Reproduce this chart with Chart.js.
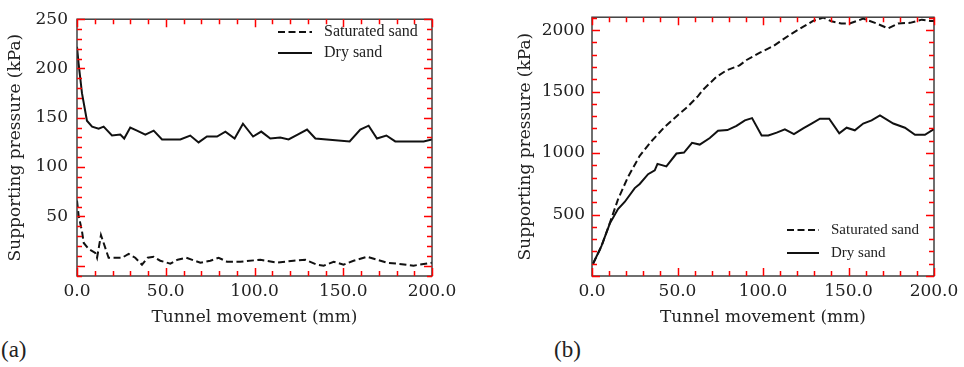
<!DOCTYPE html>
<html>
<head>
<meta charset="utf-8">
<script src="https://cdn.jsdelivr.net/npm/chart.js@4.4.1/dist/chart.umd.min.js"></script>
<style>
    body {
        margin: 0;
        background: #fff;
        width: 964px;
        height: 367px;
        position: relative;
        overflow: hidden;
    }
    .panel {
        position: absolute;
        top: 0;
    }
    #panelA { left: 0; }
    #panelB { left: 484px; }
    .tag {
        position: absolute;
        top: 338px;
        font: 23px "Liberation Serif", serif;
        line-height: 1;
        color: #222;
    }
</style>
</head>
<body>
<div class="panel" id="panelA"><canvas id="chartA" width="480" height="334"></canvas></div>
<div class="panel" id="panelB"><canvas id="chartB" width="480" height="334"></canvas></div>
<div class="tag" style="left:1px">(a)</div>
<div class="tag" style="left:554px">(b)</div>
<script>
// panel (a)
const satAx = [0, 0.9, 2.8, 3.8, 6.5, 10.3, 11.3, 13.5, 17.8, 25.4, 29.1, 32.8, 36.6, 39.8, 43.2, 46.9, 52.6, 56.7, 61.6, 69.5, 75.1, 79.8, 84.5, 92, 103.3, 112.7, 122, 128.6, 135.2, 139, 144.6, 150.2, 155.8, 163.4, 169, 174.6, 180.3, 189.6, 200];
const satAy = [66, 51, 35, 23, 17, 13, 8, 31, 8, 8, 12, 8, 1, 8, 9, 5, 2, 6, 8, 3, 5, 8, 4, 4, 6, 3, 5, 6, 1, 0, 4, 1, 5, 9, 6, 3, 2, 0, 3];
const dryAx = [0, 0.9, 2.8, 5.6, 8.5, 12.2, 15, 19.7, 24.4, 26.6, 30, 33.8, 38.5, 43.2, 47.9, 58.2, 63.8, 68.5, 73.2, 78.9, 83.6, 88.8, 93.5, 99.2, 103.8, 108.9, 114.5, 119.2, 124.3, 129.6, 134.3, 153.6, 159.6, 164.3, 169, 174.3, 179.3, 185, 189.6, 195.3, 200];
const dryAy = [222, 205, 175, 147, 141, 139, 141, 132, 133, 129, 140, 137, 133, 137, 128, 128, 132, 125, 131, 131, 136, 129, 144, 131, 136, 129, 130, 128, 133, 138, 129, 126, 138, 142, 129, 132, 126, 126, 126, 126, 128];

// panel (b)
const satBx = [0.6, 5.5, 10.4, 15.2, 21.1, 27.9, 34.7, 42.5, 50.3, 56.2, 62, 65, 72.8, 78.7, 86.3, 90.4, 98.2, 106, 115.6, 123.6, 129.3, 135.2, 140, 145.8, 150.7, 158.6, 166.4, 173.2, 179, 186, 192.9, 197.8, 200];
const satBy = [100, 240, 430, 623, 807, 977, 1095, 1213, 1310, 1380, 1463, 1516, 1620, 1673, 1713, 1757, 1817, 1870, 1961, 2028, 2075, 2102, 2072, 2054, 2054, 2093, 2054, 2014, 2054, 2059, 2085, 2075, 2075];
const dryBx = [0.6, 5.5, 10.4, 15.2, 19.1, 25, 27.9, 32.8, 36.7, 38.3, 43.5, 49.4, 53.8, 58.5, 63, 68.9, 73.7, 79.2, 84.5, 89.4, 93.6, 99.2, 103.1, 108, 112.8, 118.1, 123.5, 128.4, 133.3, 138.7, 144.6, 148.9, 153.7, 158.6, 163.5, 168.4, 176.2, 183, 188.9, 194.7, 200];
const dryBy = [100, 243, 426, 544, 602, 715, 749, 828, 859, 912, 891, 996, 1004, 1083, 1069, 1122, 1182, 1187, 1221, 1266, 1284, 1143, 1143, 1166, 1193, 1154, 1201, 1240, 1280, 1280, 1161, 1206, 1185, 1240, 1266, 1306, 1240, 1206, 1148, 1148, 1195];

const seriesNames = ["Saturated sand", "Dry sand"];
const xTickLabels = [0, 50, 100, 150, 200];
const yTickLabelsA = [50, 100, 150, 200, 250];
const yTickLabelsB = [500, 1000, 1500, 2000];

const serif = "DejaVu Serif";
const ink = "#222";

const pts = (xs, ys) => xs.map((x, i) => ({ x: x, y: ys[i] }));

// box frame with inward ticks on all four sides
const createFramePlugin = (cfg) => ({
    id: "frameTicks",
    afterDraw: (chart) => {
        const {
            ctx,
            chartArea: { left, right, top, bottom },
            scales: { x, y },
        } = chart;
        ctx.save();
        ctx.setLineDash([]);
        ctx.strokeStyle = "#333";
        ctx.lineWidth = 1.4;
        ctx.strokeRect(left, top, right - left, bottom - top);
        ctx.lineWidth = 1.5;
        ctx.strokeStyle = "red";
        ctx.beginPath();
        const x0 = Math.ceil(x.min / cfg.xMinor) * cfg.xMinor;
        for (let v = x0; v <= x.max + 1e-6; v += cfg.xMinor) {
            const px = Math.round(x.getPixelForValue(v)) + 0.5;
            const len = Math.abs(v % cfg.xMajor) < 1e-6 ? 8 : 5;
            ctx.moveTo(px, bottom);
            ctx.lineTo(px, bottom - len);
            ctx.moveTo(px, top);
            ctx.lineTo(px, top + len);
        }
        const y0 = Math.ceil(y.min / cfg.yMinor) * cfg.yMinor;
        for (let v = y0; v <= y.max + 1e-6; v += cfg.yMinor) {
            const py = Math.round(y.getPixelForValue(v)) + 0.5;
            const len = Math.abs(v % cfg.yMajor) < 1e-6 ? 8 : 5;
            ctx.moveTo(left, py);
            ctx.lineTo(left + len, py);
            ctx.moveTo(right, py);
            ctx.lineTo(right - len, py);
        }
        ctx.stroke();
        ctx.restore();
    },
});

const createLegendPlugin = (cfg) => ({
    id: "lineLegend",
    afterDraw: (chart) => {
        const ctx = chart.ctx;
        ctx.save();
        ctx.font = cfg.font;
        ctx.textBaseline = "middle";
        ctx.fillStyle = ink;
        chart.data.datasets.forEach((ds, i) => {
            const yy = cfg.y + i * cfg.rowH;
            ctx.strokeStyle = ds.borderColor;
            ctx.lineWidth = ds.borderWidth;
            ctx.setLineDash(ds.borderDash || []);
            ctx.beginPath();
            ctx.moveTo(cfg.x, yy);
            ctx.lineTo(cfg.x + cfg.len, yy);
            ctx.stroke();
            ctx.setLineDash([]);
            ctx.fillText(ds.label, cfg.x + cfg.len + 12, yy);
        });
        ctx.restore();
    },
});

function makeChart(id, sat, dry, yOpts, box, legendCfg) {
    return new Chart(document.getElementById(id).getContext("2d"), {
        type: "line",
        data: {
            datasets: [
                {
                    label: seriesNames[0],
                    data: sat,
                    borderColor: "#111",
                    borderWidth: 2,
                    borderDash: [7, 3.5],
                    pointRadius: 0,
                    tension: 0,
                },
                {
                    label: seriesNames[1],
                    data: dry,
                    borderColor: "#111",
                    borderWidth: 2,
                    pointRadius: 0,
                    tension: 0,
                },
            ],
        },
        options: {
            responsive: false,
            animation: false,
            devicePixelRatio: 1,
            layout: { padding: { left: 0, top: box.top, right: box.right, bottom: 0 } },
            scales: {
                x: {
                    type: "linear",
                    min: 0,
                    max: 200,
                    afterFit: (s) => { s.height = 58; },
                    afterBuildTicks: (s) => { s.ticks = xTickLabels.map((v) => ({ value: v })); },
                    grid: { display: false, drawTicks: false },
                    border: { display: false },
                    ticks: {
                        padding: 5,
                        maxRotation: 0,
                        color: ink,
                        font: { family: serif, size: 17 },
                        callback: (v) => Number(v).toFixed(1),
                    },
                    title: {
                        display: true,
                        text: "Tunnel movement (mm)",
                        color: ink,
                        font: { family: serif, size: 17 },
                        padding: { top: 0, bottom: 6 },
                    },
                },
                y: {
                    min: yOpts.min,
                    max: yOpts.max,
                    afterFit: (s) => { s.width = box.left; },
                    afterBuildTicks: (s) => { s.ticks = yOpts.labels.map((v) => ({ value: v })); },
                    grid: { display: false, drawTicks: false },
                    border: { display: false },
                    ticks: {
                        padding: box.labelPad,
                        color: ink,
                        font: { family: serif, size: 17 },
                        callback: (v) => String(v),
                    },
                    title: {
                        display: true,
                        text: "Supporting pressure (kPa)",
                        color: ink,
                        font: { family: serif, size: 17 },
                        padding: { top: box.titlePad, bottom: 0 },
                    },
                },
            },
            plugins: {
                legend: { display: false },
                tooltip: { enabled: false },
            },
        },
        plugins: [createFramePlugin(yOpts.ticks), createLegendPlugin(legendCfg)],
    });
}

makeChart(
    "chartA",
    pts(satAx, satAy),
    pts(dryAx, dryAy),
    { min: -10.5, max: 250, labels: yTickLabelsA, ticks: { xMinor: 10, xMajor: 50, yMinor: 10, yMajor: 50 } },
    { left: 77, top: 10, right: 48, labelPad: 9, titlePad: 5 },
    { x: 278, y: 32, rowH: 21, len: 34, font: "16px 'Liberation Serif'" }
);

makeChart(
    "chartB",
    pts(satBx, satBy),
    pts(dryBx, dryBy),
    { min: 0, max: 2105, labels: yTickLabelsB, ticks: { xMinor: 10, xMajor: 50, yMinor: 100, yMajor: 500 } },
    { left: 108, top: 8, right: 30, labelPad: 7, titlePad: 31 },
    { x: 303, y: 230, rowH: 23, len: 32, font: "15px 'Liberation Serif'" }
);
</script>
</body>
</html>
